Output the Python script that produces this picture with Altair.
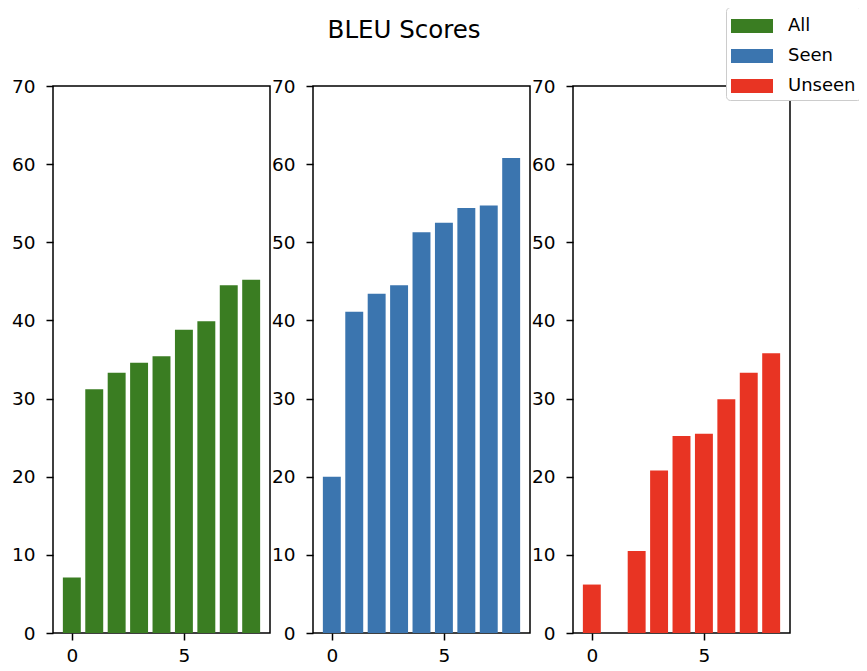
import altair as alt
import pandas as pd

# ---- data ----
bar_index = [0, 1, 2, 3, 4, 5, 6, 7, 8]
all_scores = [7.1, 31.2, 33.3, 34.6, 35.4, 38.8, 39.9, 44.5, 45.2]
seen_scores = [20.0, 41.1, 43.4, 44.5, 51.3, 52.5, 54.4, 54.7, 60.8]
unseen_scores = [6.2, 0.0, 10.5, 20.8, 25.2, 25.5, 29.9, 33.3, 35.8]
series_names = ["All", "Seen", "Unseen"]
series_colors = ["#3a7d22", "#3b75af", "#e83423"]
y_ticks = [0, 10, 20, 30, 40, 50, 60, 70]
x_ticks = [0, 5]
chart_title = "BLEU Scores"

rows = []
for name, vals in zip(series_names, [all_scores, seen_scores, unseen_scores]):
    for i, v in zip(bar_index, vals):
        rows.append({"idx": i, "value": v, "series": name})
df = pd.DataFrame(rows)

FONT = "DejaVu Sans"
TICK_FS = 18.5

color_scale = alt.Scale(domain=series_names, range=series_colors)
legend = alt.Legend(
    title=None,
    orient="none",
    legendX=673,
    legendY=-79,
    symbolType="M-1,-0.5L2,-0.5L2,0.5L-1,0.5Z",
    symbolSize=784,
    symbolStrokeWidth=0,
    symbolOpacity=1,
    labelFontSize=18,
    labelFont=FONT,
    labelColor="black",
    labelOffset=29,
    rowPadding=7,
    padding=5,
    fillColor="white",
    strokeColor="#cccccc",
    cornerRadius=4,
)


def panel(name):
    return (
        alt.Chart(df)
        .transform_filter(alt.datum.series == name)
        .transform_calculate(x0="datum.idx - 0.4", x1="datum.idx + 0.4")
        .mark_bar(opacity=1)
        .encode(
            x=alt.X(
                "x0:Q",
                scale=alt.Scale(domain=[-0.84, 8.84], nice=False, zero=False),
                axis=alt.Axis(values=x_ticks, title=None, grid=False, domain=False,
                              tickSize=7, tickWidth=1.5, tickColor="black",
                              labelPadding=6, labelFontSize=TICK_FS, labelFont=FONT,
                              labelColor="black", format="d"),
            ),
            x2="x1:Q",
            y=alt.Y(
                "value:Q",
                scale=alt.Scale(domain=[0, 70], nice=False),
                axis=alt.Axis(values=y_ticks, title=None, grid=False, domain=False,
                              tickSize=7, tickWidth=1.5, tickColor="black",
                              labelPadding=11, labelFontSize=TICK_FS, labelFont=FONT,
                              labelColor="black", format="d"),
            ),
            y2=alt.datum(0),
            color=alt.Color("series:N", scale=color_scale, legend=legend),
        )
        .properties(width=217, height=547)
    )


chart = (
    alt.hconcat(*[panel(n) for n in series_names], spacing=-1)
    .properties(
        title=alt.TitleParams(chart_title, fontSize=24.5, font=FONT, fontWeight="normal",
                              anchor="middle", color="black", offset=0, dy=37, dx=-32),
        autosize=alt.AutoSizeParams(type="none"),
        padding={"left": 45, "top": 78, "right": 806, "bottom": 577},
    )
    .configure(background="white", view=alt.ViewConfig(stroke="black", strokeWidth=1.5))
)

chart.save("out.html", embed_options={"renderer": "svg", "actions": False})
